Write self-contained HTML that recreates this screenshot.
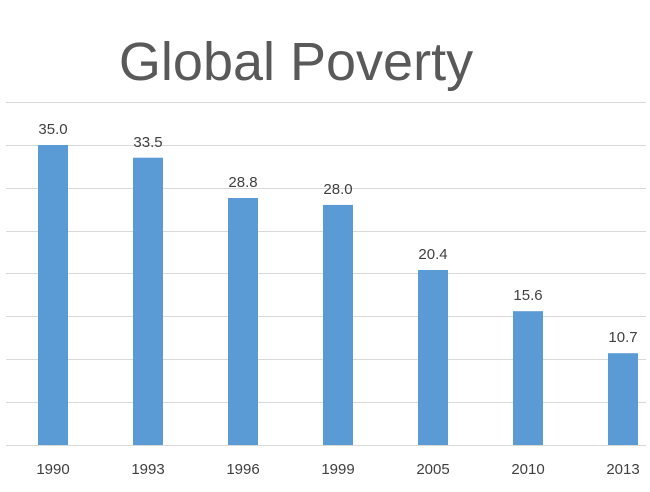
<!DOCTYPE html>
<html><head><style>
body{margin:0;background:#fff}
</style></head><body>
<svg width="650" height="487" xmlns="http://www.w3.org/2000/svg" font-family="Liberation Sans, sans-serif">
<rect width="650" height="487" fill="#fff"/>
<text x="296" y="80" font-size="54" fill="#595959" text-anchor="middle">Global Poverty</text>
<g stroke="#d9d9d9" stroke-width="1">
<line x1="6" x2="646" y1="102.5" y2="102.5"/>
<line x1="6" x2="646" y1="145.5" y2="145.5"/>
<line x1="6" x2="646" y1="188.5" y2="188.5"/>
<line x1="6" x2="646" y1="231.5" y2="231.5"/>
<line x1="6" x2="646" y1="273.5" y2="273.5"/>
<line x1="6" x2="646" y1="316.5" y2="316.5"/>
<line x1="6" x2="646" y1="359.5" y2="359.5"/>
<line x1="6" x2="646" y1="402.5" y2="402.5"/>
<line x1="6" x2="646" y1="445.5" y2="445.5"/>
</g>
<g fill="#5b9bd5">
<rect x="38" y="145" width="30" height="300"/>
<rect x="133" y="157.7" width="30" height="287.3"/>
<rect x="228" y="198" width="30" height="247"/>
<rect x="323" y="204.9" width="30" height="240.1"/>
<rect x="418" y="270" width="30" height="175"/>
<rect x="513" y="311.2" width="30" height="133.8"/>
<rect x="608" y="353.2" width="30" height="91.8"/>
</g>
<g font-size="15" fill="#404040" text-anchor="middle">
<text x="53" y="134">35.0</text>
<text x="148" y="147">33.5</text>
<text x="243" y="187">28.8</text>
<text x="338" y="194">28.0</text>
<text x="433" y="259">20.4</text>
<text x="528" y="300">15.6</text>
<text x="623" y="342">10.7</text>
</g>
<g font-size="15" fill="#404040" text-anchor="middle">
<text x="53" y="474">1990</text>
<text x="148" y="474">1993</text>
<text x="243" y="474">1996</text>
<text x="338" y="474">1999</text>
<text x="433" y="474">2005</text>
<text x="528" y="474">2010</text>
<text x="623" y="474">2013</text>
</g>
</svg>
</body></html>
